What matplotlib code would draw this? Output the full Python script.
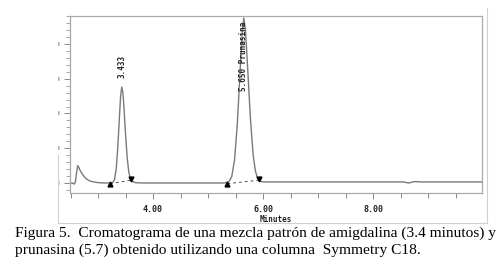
import numpy as np
import matplotlib.pyplot as plt
from matplotlib.ticker import MultipleLocator
from matplotlib.lines import Line2D

# trace (minutes, signal)
t = [2.49, 2.53, 2.57, 2.59, 2.61, 2.63, 2.65, 2.68, 2.72, 2.76, 2.80, 2.85, 2.92, 3.00, 3.10,
     3.20, 3.27, 3.30, 3.33, 3.36, 3.39, 3.41, 3.43, 3.45, 3.47, 3.50, 3.53, 3.56, 3.59, 3.63,
     3.68, 3.80, 4.50, 5.30, 5.38, 5.43, 5.48, 5.53, 5.58, 5.62, 5.65, 5.68, 5.72, 5.77, 5.82,
     5.86, 5.90, 5.95, 6.00, 6.10, 7.00, 8.00, 8.55, 8.65, 8.75, 8.90, 9.40, 9.98]
sig = [0.00, 0.00, -0.03, 0.05, 0.30, 0.50, 0.45, 0.34, 0.24, 0.16, 0.10, 0.06, 0.03, 0.01, 0.00,
       0.00, 0.02, 0.10, 0.40, 1.05, 1.95, 2.50, 2.76, 2.62, 2.20, 1.40, 0.72, 0.30, 0.11, 0.04,
       0.01, 0.00, 0.00, 0.00, 0.04, 0.18, 0.65, 1.65, 3.15, 4.30, 4.75, 4.40, 3.30, 1.85, 0.80,
       0.35, 0.13, 0.05, 0.03, 0.03, 0.03, 0.03, 0.03, 0.00, 0.04, 0.03, 0.03, 0.03]

# integration marks (start / end of each peak)
starts_t = [3.22, 5.35]
starts_y = [-0.04, -0.04]
ends_t = [3.60, 5.92]
ends_y = [0.12, 0.12]

peak_t = [3.433, 5.650]
peak_lab = ['3.433', '5.650 Prunasina']
lab_y = [3.02, 2.65]

xticks = [4.0, 6.0, 8.0]

mono = 'DejaVu Sans Mono'

fig = plt.figure(figsize=(5, 2.68), dpi=100)
ax = fig.add_axes([0.14, 0.2799, 0.824, 0.6604])

ax.plot(t, sig, color='#7a7a7a', lw=1.0)
for i in range(len(starts_t)):
    ax.plot([starts_t[i], ends_t[i]], [starts_y[i] + 0.02, ends_y[i] - 0.04],
            color='#555555', lw=0.7, ls=(0, (3, 3)))
ax.plot(starts_t, starts_y, ls='none', marker='^', ms=3.5, color='black')
ax.plot(ends_t, ends_y, ls='none', marker='v', ms=3.5, color='black')

for i in range(len(peak_t)):
    ax.text(peak_t[i], lab_y[i], peak_lab[i], rotation=90, ha='center', va='bottom',
            family=mono, fontweight='bold', fontsize=5.5, color='#222222')

ax.set_xlim(2.49, 9.98)
ax.set_ylim(-0.288, 4.806)

ax.set_xticks(xticks)
ax.set_xticklabels(['%.2f' % v for v in xticks], family=mono, fontweight='bold',
                   fontsize=6, color='#222222')
ax.xaxis.set_minor_locator(MultipleLocator(0.5))
ax.tick_params(axis='x', which='major', length=4.5, width=0.7, color='#888888', pad=4)
ax.tick_params(axis='x', which='minor', length=3.5, width=0.7, color='#888888')
ax.set_xlabel('Minutes', family=mono, fontweight='bold', fontsize=5.5,
              color='#222222', labelpad=1)

ax.set_yticks([0, 1, 2, 3, 4])
ax.set_yticklabels(['I'] * 5, fontsize=4.5, color='#333333')
ax.yaxis.set_minor_locator(MultipleLocator(0.2))
ax.tick_params(axis='y', which='major', length=4, width=0.7, color='#888888', pad=4)
ax.tick_params(axis='y', which='minor', length=3, width=0.6, color='#999999')

for s in ax.spines.values():
    s.set_color('#aaaaaa')
    s.set_linewidth(0.9)

# faint outer frame of the scanned figure
fw, fh = 500.0, 268.0
frame = [((58, 155), (58, 223)), ((58, 223), (487, 223)), ((487, 8), (487, 223))]
for (x0, y0), (x1, y1) in frame:
    fig.add_artist(Line2D([x0 / fw, x1 / fw], [1 - y0 / fh, 1 - y1 / fh],
                          color='#d0d0d0', lw=0.8))

cap1 = 'Figura 5.  Cromatograma de una mezcla patrón de amigdalina (3.4 minutos) y'
cap2 = 'prunasina (5.7) obtenido utilizando una columna  Symmetry C18.'
fig.text(15 / fw, 1 - 233 / fh, cap1, family='Liberation Serif', fontsize=11.1,
         va='center', ha='left', color='black')
fig.text(15 / fw, 1 - 250 / fh, cap2, family='Liberation Serif', fontsize=11.1,
         va='center', ha='left', color='black')

fig.savefig('out.png', dpi=100)
